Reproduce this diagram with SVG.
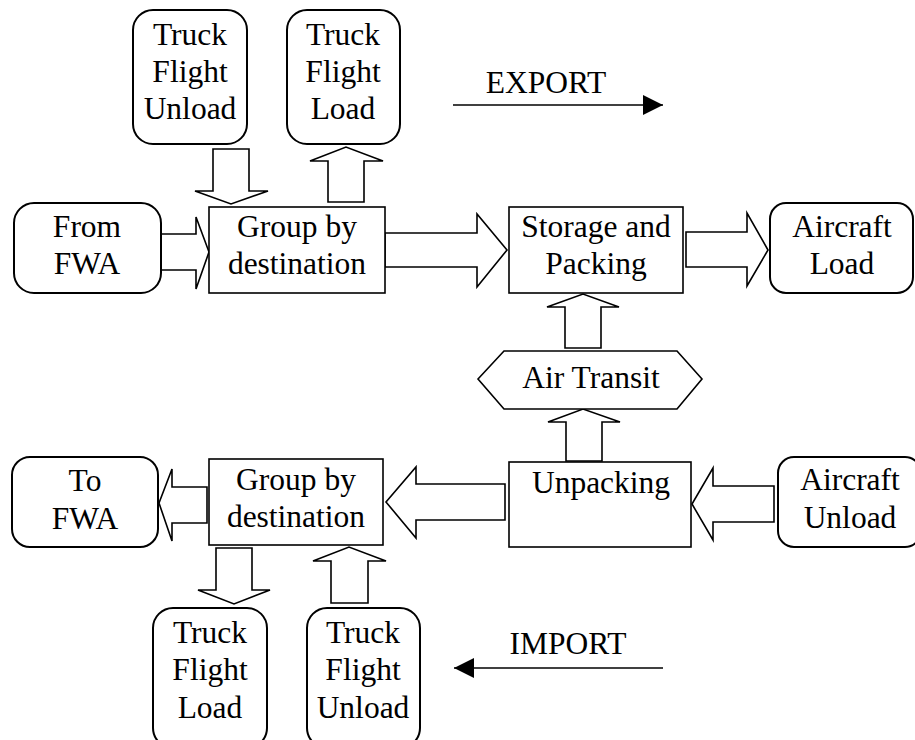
<svg xmlns="http://www.w3.org/2000/svg" width="915" height="740" viewBox="0 0 915 740">
  <defs>
    <style>
      .rnd { fill: #fff; stroke: #000; stroke-width: 2; }
      .box { fill: #fff; stroke: #000; stroke-width: 1.6; }
      .blk { fill: #fff; stroke: #000; stroke-width: 1.6; stroke-linejoin: miter; }
      .thin { fill: none; stroke: #000; stroke-width: 1.6; }
      text { font-family: "Liberation Serif", "Times New Roman", serif; font-size: 31.5px; fill: #000; text-anchor: middle; }
    </style>
    <marker id="tri" viewBox="0 0 20 20" refX="20" refY="10" markerWidth="20" markerHeight="20" markerUnits="userSpaceOnUse" orient="auto">
      <path d="M0,0 L20,10 L0,20 Z" fill="#000"/>
    </marker>
  </defs>

  <!-- block arrows between stages -->
  <g id="connectors">
    <!-- export side -->
    <polygon class="blk" points="213,149 249,149 249,191 268,191 231,204 195,191 213,191"/>
    <polygon class="blk" points="328,202 364,202 364,161 383,161 346,147 310,161 328,161"/>
    <polygon class="blk" points="161,234 196,234 196,217 209,252 196,289 196,270 161,270"/>
    <polygon class="blk" points="385,233 477,233 477,214 507,250 477,287 477,267 385,267"/>
    <polygon class="blk" points="686,232 747,232 747,213 768,250 747,286 747,267 686,267"/>
    <polygon class="blk" points="565,348 601,348 601,307 619,307 583,294 547,307 565,307"/>
    <polygon class="blk" points="566,461 602,461 602,422 620,422 583,409 548,422 566,422"/>
    <!-- import side -->
    <polygon class="blk" points="774,486 713,486 713,468 692,504 713,540 713,522 774,522"/>
    <polygon class="blk" points="505,484 416,484 416,467 386,502 416,538 416,520 505,520"/>
    <polygon class="blk" points="207,487 172,487 172,469 159,503 172,541 172,523 207,523"/>
    <polygon class="blk" points="216,548 252,548 252,590 270,590 234,604 198,590 216,590"/>
    <polygon class="blk" points="331,603 368,603 368,561 386,561 349,547 313,561 331,561"/>
    <!-- direction indicators -->
    <line class="thin" x1="453" y1="105" x2="663" y2="105" marker-end="url(#tri)"/>
    <line class="thin" x1="663" y1="668" x2="454" y2="668" marker-end="url(#tri)"/>
  </g>

  <g id="export-label"><text x="546" y="93">EXPORT</text></g>
  <g id="import-label"><text x="568" y="654">IMPORT</text></g>

  <g id="truck-unload-top">
    <rect class="rnd" x="133" y="10" width="114" height="134" rx="20"/>
    <text x="190" y="45">Truck</text><text x="190" y="82">Flight</text><text x="190" y="119">Unload</text>
  </g>
  <g id="truck-load-top">
    <rect class="rnd" x="287" y="10" width="113" height="134" rx="20"/>
    <text x="343" y="45">Truck</text><text x="343" y="82">Flight</text><text x="343" y="119">Load</text>
  </g>
  <g id="from-fwa">
    <rect class="rnd" x="14" y="203" width="147" height="90" rx="20"/>
    <text x="87" y="237">From</text><text x="87" y="274">FWA</text>
  </g>
  <g id="group-export">
    <rect class="box" x="209" y="207" width="176" height="86"/>
    <text x="297" y="237">Group by</text><text x="297" y="274">destination</text>
  </g>
  <g id="storage-packing">
    <rect class="box" x="509" y="207" width="174" height="86"/>
    <text x="596" y="237">Storage and</text><text x="596" y="274">Packing</text>
  </g>
  <g id="aircraft-load">
    <rect class="rnd" x="770" y="203" width="143" height="90" rx="16"/>
    <text x="842" y="237">Aircraft</text><text x="842" y="274">Load</text>
  </g>
  <g id="air-transit">
    <polygon class="box" points="478,379 504,351 677,351 702,379 677,409 504,409"/>
    <text x="591" y="388">Air Transit</text>
  </g>
  <g id="unpacking">
    <rect class="box" x="509" y="462" width="182" height="85"/>
    <text x="601" y="493">Unpacking</text>
  </g>
  <g id="aircraft-unload">
    <rect class="rnd" x="778" y="457" width="143" height="90" rx="16"/>
    <text x="850" y="490">Aircraft</text><text x="850" y="528">Unload</text>
  </g>
  <g id="to-fwa">
    <rect class="rnd" x="12" y="457" width="146" height="90" rx="18"/>
    <text x="85" y="491">To</text><text x="85" y="529">FWA</text>
  </g>
  <g id="group-import">
    <rect class="box" x="209" y="459" width="174" height="86"/>
    <text x="296" y="490">Group by</text><text x="296" y="527">destination</text>
  </g>
  <g id="truck-load-bottom">
    <rect class="rnd" x="153" y="608" width="114" height="140" rx="20"/>
    <text x="210" y="643">Truck</text><text x="210" y="680">Flight</text><text x="210" y="718">Load</text>
  </g>
  <g id="truck-unload-bottom">
    <rect class="rnd" x="307" y="608" width="113" height="140" rx="20"/>
    <text x="363" y="643">Truck</text><text x="363" y="680">Flight</text><text x="363" y="718">Unload</text>
  </g>
</svg>
